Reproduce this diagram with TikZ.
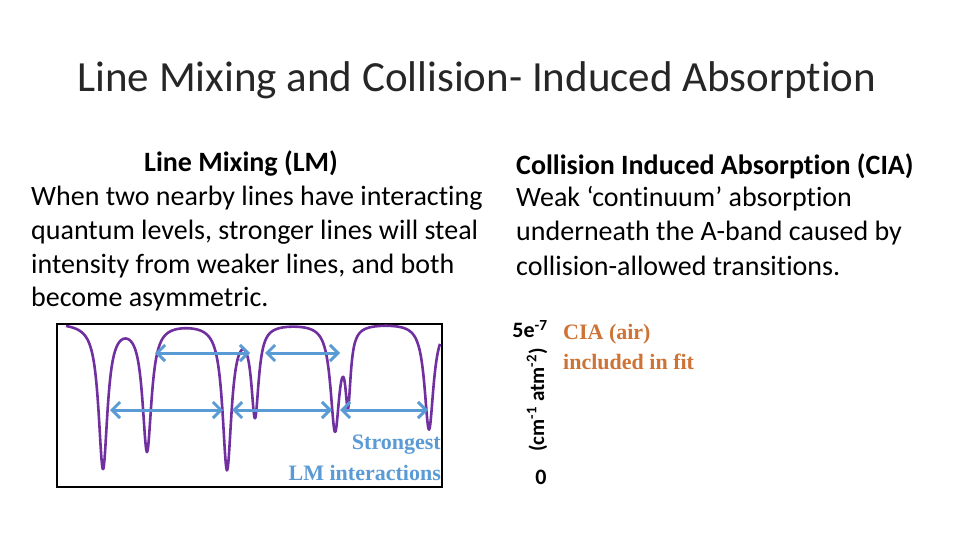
\documentclass[tikz,border=0pt]{standalone}
\usepackage{fontspec}
\setmainfont[Ligatures=NoCommon]{Carlito}
\newfontfamily\serifx{Liberation Serif}
\usetikzlibrary{arrows.meta}
\definecolor{lmblue}{HTML}{5B9BD5}
\definecolor{lmpurple}{HTML}{7030A0}
\definecolor{ciaor}{HTML}{C55A11}
\begin{document}
\begin{tikzpicture}[x=1pt,y=-1pt,
  body/.style={anchor=west,inner sep=0pt,font=\fontsize{28}{32}\selectfont},
  lm/.style={draw=lmblue,line width=3pt,<->,>={Straight Barb[length=8pt,width=16pt]}},
  cia/.style={anchor=west,inner sep=0pt,text=ciaor!85,font=\serifx\bfseries\fontsize{22}{26}\selectfont}]
\useasboundingbox (0,0) rectangle (960,540);
\node[inner sep=0pt,text=black!85,font=\fontsize{43}{48}\selectfont] (title) at (477,80) {Line Mixing and Collision- Induced Absorption};
\node[inner sep=0pt,font=\bfseries\fontsize{28}{32}\selectfont] (lmh) at (241,163) {Line Mixing (LM)};
\node[body] (l1) at (31,198) {When two nearby lines have interacting};
\node[body] (l2) at (31,232) {quantum levels, stronger lines will steal};
\node[body] (l3) at (31,266) {intensity from weaker lines, and both};
\node[body] (l4) at (31,299) {become asymmetric.};
\node[body,font=\bfseries\fontsize{28}{32}\selectfont] (rh) at (516,166) {Collision Induced Absorption (CIA)};
\node[body] (r1) at (516,199) {Weak ‘continuum’ absorption};
\node[body] (r2) at (516,233) {underneath the A-band caused by};
\node[body] (r3) at (516,266) {collision-allowed transitions.};
\node[inner sep=0pt,font=\bfseries\fontsize{22}{26}\selectfont] (top) at (530,329) {5e\textsuperscript{-7}};
\node[inner sep=0pt,rotate=90,font=\bfseries\fontsize{21}{24}\selectfont] (unit) at (537,400) {(cm\textsuperscript{-1} atm\textsuperscript{-2})};
\node[inner sep=0pt,font=\bfseries\fontsize{22}{26}\selectfont] (zero) at (541,477) {0};
\node[cia] (c1) at (563,334) {CIA (air)};
\node[cia] (c2) at (563,362) {included in fit};
\draw[line width=2.8pt] (57,324) rectangle (442,487);
\draw[lmpurple,line width=2.6pt,line join=round,smooth] plot[domain=66:440,samples=380,variable=\x]
 ({\x},{322+145*0.3/((\x/10-10.3)^2+0.3)+127*0.3/((\x/10-14.7)^2+0.3)+145*0.3/((\x/10-22.7)^2+0.3)
 +90*0.2/((\x/10-25.5)^2+0.2)+105*0.3/((\x/10-33.5)^2+0.3)+70*0.1/((\x/10-34.8)^2+0.1)+107*0.3/((\x/10-42.9)^2+0.3)});
\coordinate (a1) at (155,353); \coordinate (a2) at (250,353);
\coordinate (a3) at (265,353); \coordinate (a4) at (340,353);
\coordinate (b1) at (110,410); \coordinate (b2) at (223,410);
\coordinate (b3) at (232,410); \coordinate (b4) at (332,410);
\coordinate (b5) at (340,410); \coordinate (b6) at (428,410);
\draw[lm] (a1) -- (a2); \draw[lm] (a3) -- (a4);
\draw[lm] (b1) -- (b2); \draw[lm] (b3) -- (b4); \draw[lm] (b5) -- (b6);
\node[anchor=east,inner sep=0pt,text=lmblue,font=\serifx\bfseries\fontsize{22}{26}\selectfont] (s1) at (441,445) {Strongest};
\node[anchor=east,inner sep=0pt,text=lmblue,font=\serifx\bfseries\fontsize{22}{26}\selectfont] (s2) at (441,473) {LM interactions};
\end{tikzpicture}
\end{document}
